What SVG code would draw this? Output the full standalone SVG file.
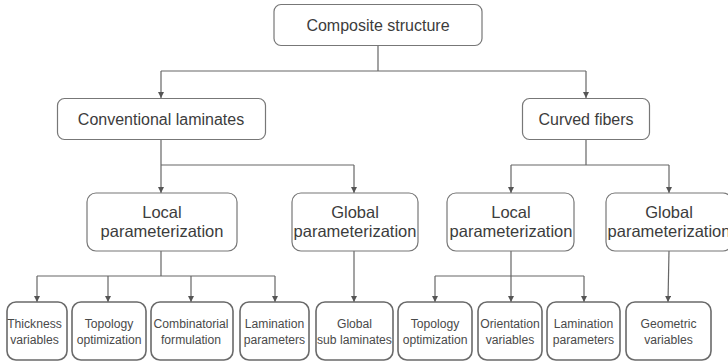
<svg xmlns="http://www.w3.org/2000/svg" width="728" height="362" viewBox="0 0 728 362">
  <defs>
    <marker id="arrow" viewBox="0 0 10 10" refX="10" refY="5" markerWidth="6" markerHeight="6" orient="auto" markerUnits="userSpaceOnUse">
      <path d="M0,0 L10,5 L0,10 z" fill="#555"/>
    </marker>
    <style>
      .box { fill: #fff; stroke: #777; stroke-width: 1.2; }
      .leaf { fill: #fff; stroke: #6a6a6a; stroke-width: 1.6; }
      .t1 { font-family: "Liberation Sans", Arial, sans-serif; font-size: 16px; fill: #3c3c3c; text-anchor: middle; }
      .t2 { font-family: "Liberation Sans", Arial, sans-serif; font-size: 16.5px; fill: #3c3c3c; text-anchor: middle; }
      .t3 { font-family: "Liberation Sans", Arial, sans-serif; font-size: 13.5px; fill: #4a4a4a; text-anchor: middle; }
      .link { fill: none; stroke: #666; stroke-width: 1.2; }
      .arr { fill: none; stroke: #666; stroke-width: 1.2; marker-end: url(#arrow); }
    </style>
  </defs>
  <rect width="728" height="362" fill="#fff"/>

  <!-- connectors -->
  <g id="connectors">
    <path class="link" d="M378,45 V71 M161,71 H586"/>
    <path class="arr" d="M161,71 V98"/>
    <path class="arr" d="M586,71 V98"/>

    <path class="link" d="M161,139 V165 M161,165 H354"/>
    <path class="arr" d="M161,165 V193"/>
    <path class="arr" d="M354,165 V193"/>

    <path class="link" d="M586,139 V165 M511,165 H669"/>
    <path class="arr" d="M511,165 V193"/>
    <path class="arr" d="M669,165 V193"/>

    <path class="link" d="M161,251 V276 M37,276 H275"/>
    <path class="arr" d="M37,276 V302"/>
    <path class="arr" d="M108,276 V302"/>
    <path class="arr" d="M191,276 V302"/>
    <path class="arr" d="M275,276 V302"/>

    <path class="arr" d="M354,251 V302"/>

    <path class="link" d="M511,251 V276 M435,276 H584"/>
    <path class="arr" d="M435,276 V302"/>
    <path class="arr" d="M511,276 V302"/>
    <path class="arr" d="M584,276 V302"/>

    <path class="arr" d="M669,251 L668,302"/>
  </g>

  <!-- level 0 -->
  <g id="composite-structure">
    <rect class="box" x="274" y="4.5" width="208" height="41" rx="7"/>
    <text class="t1" x="378" y="31">Composite structure</text>
  </g>

  <!-- level 1 -->
  <g id="conventional-laminates">
    <rect class="box" x="57.5" y="98.5" width="208" height="41" rx="7"/>
    <text class="t1" x="161" y="125">Conventional laminates</text>
  </g>
  <g id="curved-fibers">
    <rect class="box" x="522.5" y="98.5" width="127" height="41" rx="7"/>
    <text class="t1" x="586" y="125">Curved fibers</text>
  </g>

  <!-- level 2 -->
  <g id="cl-local">
    <rect class="box" x="87" y="193" width="150" height="58" rx="9"/>
    <text class="t2" x="162" y="218">Local</text>
    <text class="t2" x="162" y="237">parameterization</text>
  </g>
  <g id="cl-global">
    <rect class="box" x="292" y="193" width="126" height="58" rx="9"/>
    <text class="t2" x="355" y="218">Global</text>
    <text class="t2" x="355" y="237">parameterization</text>
  </g>
  <g id="cf-local">
    <rect class="box" x="447" y="193" width="127" height="58" rx="9"/>
    <text class="t2" x="511" y="218">Local</text>
    <text class="t2" x="511" y="237">parameterization</text>
  </g>
  <g id="cf-global">
    <rect class="box" x="606" y="193" width="126" height="58" rx="9"/>
    <text class="t2" x="669" y="218">Global</text>
    <text class="t2" x="669" y="237">parameterization</text>
  </g>

  <!-- level 3: labels use a slightly condensed face -->
  <g id="thickness-variables">
    <rect class="leaf" x="7" y="302" width="60" height="58" rx="9"/>
    <g transform="translate(34.5 0) scale(0.9 1)">
      <text class="t3" x="0" y="328">Thickness</text>
      <text class="t3" x="0" y="344">variables</text>
    </g>
  </g>
  <g id="cl-topology-optimization">
    <rect class="leaf" x="72" y="302" width="74" height="58" rx="9"/>
    <g transform="translate(109 0) scale(0.9 1)">
      <text class="t3" x="0" y="328">Topology</text>
      <text class="t3" x="0" y="344">optimization</text>
    </g>
  </g>
  <g id="combinatorial-formulation">
    <rect class="leaf" x="151" y="302" width="82" height="58" rx="9"/>
    <g transform="translate(191 0) scale(0.9 1)">
      <text class="t3" x="0" y="328">Combinatorial</text>
      <text class="t3" x="0" y="344">formulation</text>
    </g>
  </g>
  <g id="cl-lamination-parameters">
    <rect class="leaf" x="240" y="302" width="69" height="58" rx="9"/>
    <g transform="translate(274.5 0) scale(0.9 1)">
      <text class="t3" x="0" y="328">Lamination</text>
      <text class="t3" x="0" y="344">parameters</text>
    </g>
  </g>
  <g id="global-sub-laminates">
    <rect class="leaf" x="316" y="302" width="77" height="58" rx="9"/>
    <g transform="translate(354.5 0) scale(0.9 1)">
      <text class="t3" x="0" y="328">Global</text>
      <text class="t3" x="0" y="344">sub laminates</text>
    </g>
  </g>
  <g id="cf-topology-optimization">
    <rect class="leaf" x="398" y="302" width="74" height="58" rx="9"/>
    <g transform="translate(435 0) scale(0.9 1)">
      <text class="t3" x="0" y="328">Topology</text>
      <text class="t3" x="0" y="344">optimization</text>
    </g>
  </g>
  <g id="orientation-variables">
    <rect class="leaf" x="478" y="302" width="64" height="58" rx="9"/>
    <g transform="translate(510 0) scale(0.9 1)">
      <text class="t3" x="0" y="328">Orientation</text>
      <text class="t3" x="0" y="344">variables</text>
    </g>
  </g>
  <g id="cf-lamination-parameters">
    <rect class="leaf" x="547" y="302" width="73" height="58" rx="9"/>
    <g transform="translate(583.5 0) scale(0.9 1)">
      <text class="t3" x="0" y="328">Lamination</text>
      <text class="t3" x="0" y="344">parameters</text>
    </g>
  </g>
  <g id="geometric-variables">
    <rect class="leaf" x="626" y="302" width="85" height="58" rx="9"/>
    <g transform="translate(668.5 0) scale(0.9 1)">
      <text class="t3" x="0" y="328">Geometric</text>
      <text class="t3" x="0" y="344">variables</text>
    </g>
  </g>
</svg>
